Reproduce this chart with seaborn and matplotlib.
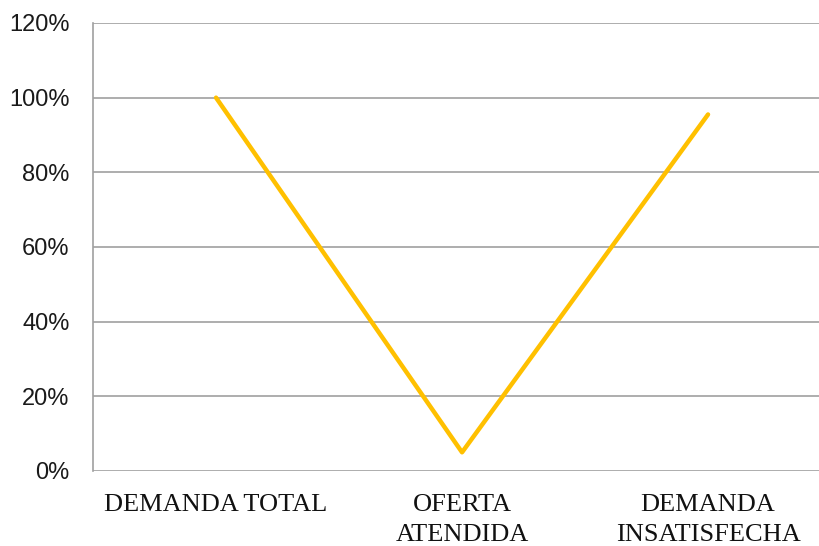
import matplotlib
matplotlib.use("Agg")
import matplotlib.pyplot as plt
import seaborn as sns
import pandas as pd
from matplotlib.ticker import PercentFormatter, FixedLocator

categorias = ["DEMANDA TOTAL", "OFERTA\nATENDIDA", "DEMANDA\nINSATISFECHA"]
porcentajes = [1.00, 0.05, 0.955]

sns.set_style("white")

df = pd.DataFrame({"categoria": categorias, "valor": porcentajes})

fig = plt.figure(figsize=(8.19, 5.46), dpi=100)
ax = fig.add_axes([0.1136, 0.1374, 0.9011, 0.8205])

sns.lineplot(data=df, x="categoria", y="valor", color="#FFC000",
             linewidth=3.2, ax=ax, sort=False)

ax.set_xlim(-0.5, 2.5)
ax.set_ylim(0, 1.2)
ax.set_yticks([0, 0.2, 0.4, 0.6, 0.8, 1.0, 1.2])
ax.yaxis.set_major_formatter(PercentFormatter(1.0, decimals=0))
ax.grid(axis="y", color="#A0A0A0", linewidth=1.2)
ax.set_axisbelow(True)

for side in ["top", "right", "bottom"]:
    ax.spines[side].set_visible(False)
ax.spines["left"].set_color("#A0A0A0")
ax.spines["left"].set_linewidth(1.2)

ax.tick_params(axis="y", length=5.8, color="#A0A0A0", width=1.2, pad=11,
               labelsize=17, labelcolor="#1a1a1a")
for lbl in ax.get_yticklabels():
    lbl.set_fontfamily("Liberation Sans")

ax.xaxis.set_minor_locator(FixedLocator([-0.5, 0.5, 1.5, 2.5]))
ax.tick_params(axis="x", which="major", length=0, pad=16.5, labelsize=19,
               labelcolor="#111111")
ax.tick_params(axis="x", which="minor", length=6, color="#A0A0A0", width=1.2)
ax.set_xticks(range(len(categorias)))
ax.set_xticklabels(categorias, fontfamily="Liberation Serif", linespacing=1.48)
ax.set_xlabel("")
ax.set_ylabel("")

fig.savefig("out.png", dpi=100)
